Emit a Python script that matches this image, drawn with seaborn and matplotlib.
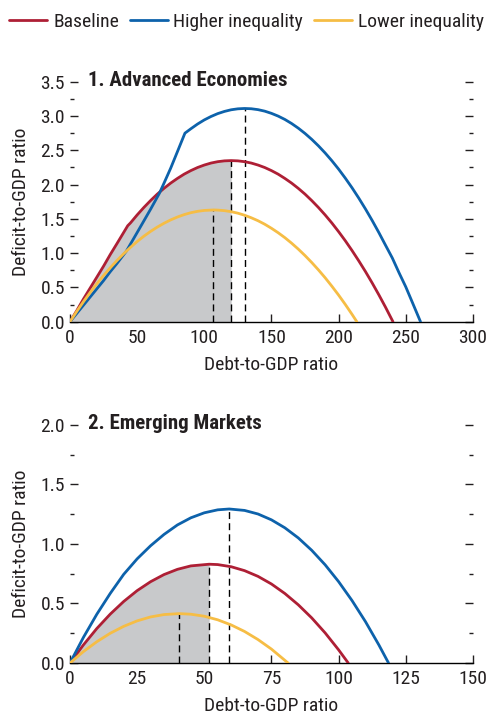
import matplotlib
matplotlib.use("Agg")
import matplotlib.pyplot as plt
from matplotlib import font_manager
from matplotlib.lines import Line2D
from matplotlib.ticker import MultipleLocator
import seaborn as sns
import pandas as pd

# ---- data ----
series_names = ["Baseline", "Higher inequality", "Lower inequality"]
colors = ["#AE1F35", "#0D62AB", "#F6BD45"]

# Panel 1: Advanced Economies
ae_base_x = [0, 5, 10, 15, 20, 25, 30, 35, 43, 45, 50, 55, 60, 65, 70, 75, 80, 85, 90,
             95, 100, 105, 110, 115, 120, 125, 130, 135, 140, 145, 150, 155, 160, 165,
             170, 175, 180, 185, 190, 195, 200, 205, 210, 215, 220, 225, 230, 235, 240.5]
ae_base_y = [0, 0.16, 0.33, 0.49, 0.65, 0.81, 0.98, 1.14, 1.40, 1.44, 1.557, 1.666,
             1.767, 1.861, 1.945, 2.022, 2.09, 2.152, 2.204, 2.249, 2.285, 2.314, 2.334,
             2.346, 2.35, 2.346, 2.334, 2.314, 2.285, 2.249, 2.204, 2.152, 2.09, 2.022,
             1.945, 1.861, 1.767, 1.666, 1.557, 1.44, 1.314, 1.181, 1.039, 0.889, 0.732,
             0.566, 0.392, 0.21, 0]
ae_high_x = [0, 5, 10, 15, 20, 25, 30, 35, 42, 50, 55, 60, 66.5, 70, 75, 80, 85.6, 90,
             95, 100, 105, 110, 115, 120, 125, 130, 135, 140, 145, 150, 155, 160, 165,
             170, 175, 180, 185, 190, 195, 200, 205, 210, 215, 220, 225, 230, 235, 240,
             245, 250, 255, 261]
ae_high_y = [0, 0.12, 0.24, 0.36, 0.48, 0.60, 0.73, 0.85, 1.03, 1.30, 1.47, 1.64, 1.87,
             2.02, 2.24, 2.48, 2.75, 2.814, 2.883, 2.943, 2.993, 3.035, 3.067, 3.091,
             3.105, 3.11, 3.106, 3.093, 3.071, 3.039, 2.999, 2.95, 2.891, 2.823, 2.746,
             2.66, 2.565, 2.461, 2.348, 2.226, 2.094, 1.954, 1.804, 1.645, 1.477, 1.30,
             1.114, 0.93, 0.715, 0.51, 0.279, 0]
ae_low_x = [0, 5, 10, 15, 20, 25, 30, 35, 40, 45, 50, 55, 60, 65, 70, 75, 80, 85, 90,
            95, 100, 107, 110, 115, 120, 125, 130, 135, 140, 145, 150, 155, 160, 165,
            170, 175, 180, 185, 190, 195, 200, 205, 210, 213.6]
ae_low_y = [0, 0.149, 0.291, 0.426, 0.553, 0.674, 0.787, 0.893, 0.992, 1.084, 1.169,
            1.247, 1.317, 1.38, 1.436, 1.485, 1.527, 1.562, 1.59, 1.61, 1.623, 1.63,
            1.628, 1.62, 1.605, 1.583, 1.553, 1.516, 1.473, 1.422, 1.363, 1.298, 1.226,
            1.146, 1.059, 0.965, 0.864, 0.756, 0.641, 0.518, 0.389, 0.252, 0.108, 0]
ae_peak_x = [120, 130.3, 106.8]
ae_peak_y = [2.35, 3.11, 1.63]

# Panel 2: Emerging Markets
em_base_x = [0, 5, 10, 15, 20, 25, 30, 35, 40, 45, 51.8, 55, 60, 65, 70, 75, 80, 85,
             90, 95, 100, 103.6]
em_base_y = [0, 0.152, 0.290, 0.411, 0.517, 0.608, 0.683, 0.743, 0.787, 0.816, 0.830,
             0.827, 0.809, 0.776, 0.728, 0.664, 0.584, 0.489, 0.379, 0.253, 0.111, 0]
em_high_x = [0, 5, 10, 15, 20, 25, 30, 35, 40, 45, 50, 55, 59.3, 65, 70, 75, 80, 85,
             90, 95, 100, 105, 110, 115, 118.6]
em_high_y = [0, 0.215, 0.41, 0.585, 0.745, 0.875, 0.985, 1.08, 1.16, 1.22, 1.262, 1.287,
             1.294, 1.282, 1.252, 1.203, 1.136, 1.051, 0.947, 0.825, 0.684, 0.525,
             0.348, 0.152, 0]
em_low_x = [0, 5, 10, 15, 20, 25, 30, 35, 40.6, 45, 50, 55, 60, 65, 70, 75, 81.2]
em_low_y = [0, 0.096, 0.179, 0.250, 0.308, 0.354, 0.387, 0.407, 0.415, 0.410, 0.393,
            0.363, 0.320, 0.265, 0.197, 0.117, 0]
em_peak_x = [51.8, 59.3, 40.6]
em_peak_y = [0.830, 1.294, 0.415]

panels = [
    dict(title="1. Advanced Economies",
         xs=[ae_base_x, ae_high_x, ae_low_x], ys=[ae_base_y, ae_high_y, ae_low_y],
         px=ae_peak_x, py=ae_peak_y, xmax=300, xstep=50, ymax=3.5),
    dict(title="2. Emerging Markets",
         xs=[em_base_x, em_high_x, em_low_x], ys=[em_base_y, em_high_y, em_low_y],
         px=em_peak_x, py=em_peak_y, xmax=150, xstep=25, ymax=2.0),
]

sns.set_style("ticks")

# pick a narrow font if one is installed, otherwise an Arial-like one a bit smaller
avail = {f.name for f in font_manager.fontManager.ttflist}
family, fs = "Liberation Sans", 12.5
for cand, size in [("Liberation Sans Narrow", 14.5), ("Roboto Condensed", 14),
                   ("Open Sans Condensed", 14)]:
    if cand in avail:
        family, fs = cand, size
        break
plt.rcParams["font.family"] = [family, "DejaVu Sans"]
plt.rcParams["font.size"] = fs
txt = "#231F20"

fig = plt.figure(figsize=(4.88, 7.17), dpi=100)
boxes = [[0.1434, 0.5513, 0.8256, 0.3347], [0.1434, 0.0753, 0.8256, 0.3320]]

for p, box in zip(panels, boxes):
    ax = fig.add_axes(box)
    frames = []
    for name, x, y in zip(series_names, p["xs"], p["ys"]):
        frames.append(pd.DataFrame({"debt": x, "deficit": y, "series": name}))
    df = pd.concat(frames, ignore_index=True)

    # shaded area under baseline up to its peak
    base = df[(df.series == "Baseline") & (df.debt <= p["px"][0] + 1e-9)]
    ax.fill_between(base.debt, 0, base.deficit, color="#C8C9CB", lw=0, zorder=1)

    ax.vlines(p["px"], 0, p["py"], colors="black", linestyles=(0, (5, 3)),
              linewidth=1.0, zorder=2)

    sns.lineplot(data=df, x="debt", y="deficit", hue="series", palette=colors,
                 hue_order=series_names, estimator=None, sort=False, linewidth=2.0,
                 legend=False, ax=ax, zorder=3)

    ax.set_xlim(0, p["xmax"])
    ax.set_ylim(0, p["ymax"])
    ax.xaxis.set_major_locator(MultipleLocator(p["xstep"]))
    ax.yaxis.set_major_locator(MultipleLocator(0.5))
    ax.yaxis.set_minor_locator(MultipleLocator(0.25))
    ax.yaxis.set_major_formatter(plt.FormatStrFormatter("%.1f"))

    for s in ["left", "right", "top"]:
        ax.spines[s].set_visible(False)
    ax.spines["bottom"].set_color("black")
    ax.spines["bottom"].set_linewidth(1.0)

    ax.tick_params(axis="y", which="both", direction="in", left=True, right=True,
                   labelright=False, colors=txt, width=1.0, pad=3.5)
    ax.tick_params(axis="y", which="major", length=6)
    ax.tick_params(axis="y", which="minor", length=3)
    ax.tick_params(axis="x", which="major", direction="in", length=6, width=1.0,
                   colors=txt, pad=5)
    ax.tick_params(axis="both", labelsize=fs, labelcolor=txt)

    ax.set_ylabel("Deficit-to-GDP ratio", fontsize=fs, color=txt)
    ax.set_xlabel("Debt-to-GDP ratio", fontsize=fs, color=txt, va="top")
    ax.yaxis.set_label_coords(-0.10, 0.5)
    ax.xaxis.set_label_coords(0.5, -0.143)

    ax.text(0.045, 1.005, p["title"], transform=ax.transAxes, fontsize=fs + 1,
            fontweight="bold", color=txt, ha="left", va="center")

handles = [Line2D([], [], color=c, lw=2.0) for c in colors]
fig.legend(handles, series_names, loc="center", bbox_to_anchor=(0.505, 0.969), ncol=3,
           frameon=False, fontsize=fs, handlelength=1.95, handletextpad=0.3,
           columnspacing=0.55, labelcolor=txt, borderaxespad=0, borderpad=0)

fig.savefig("out.png", dpi=100)
